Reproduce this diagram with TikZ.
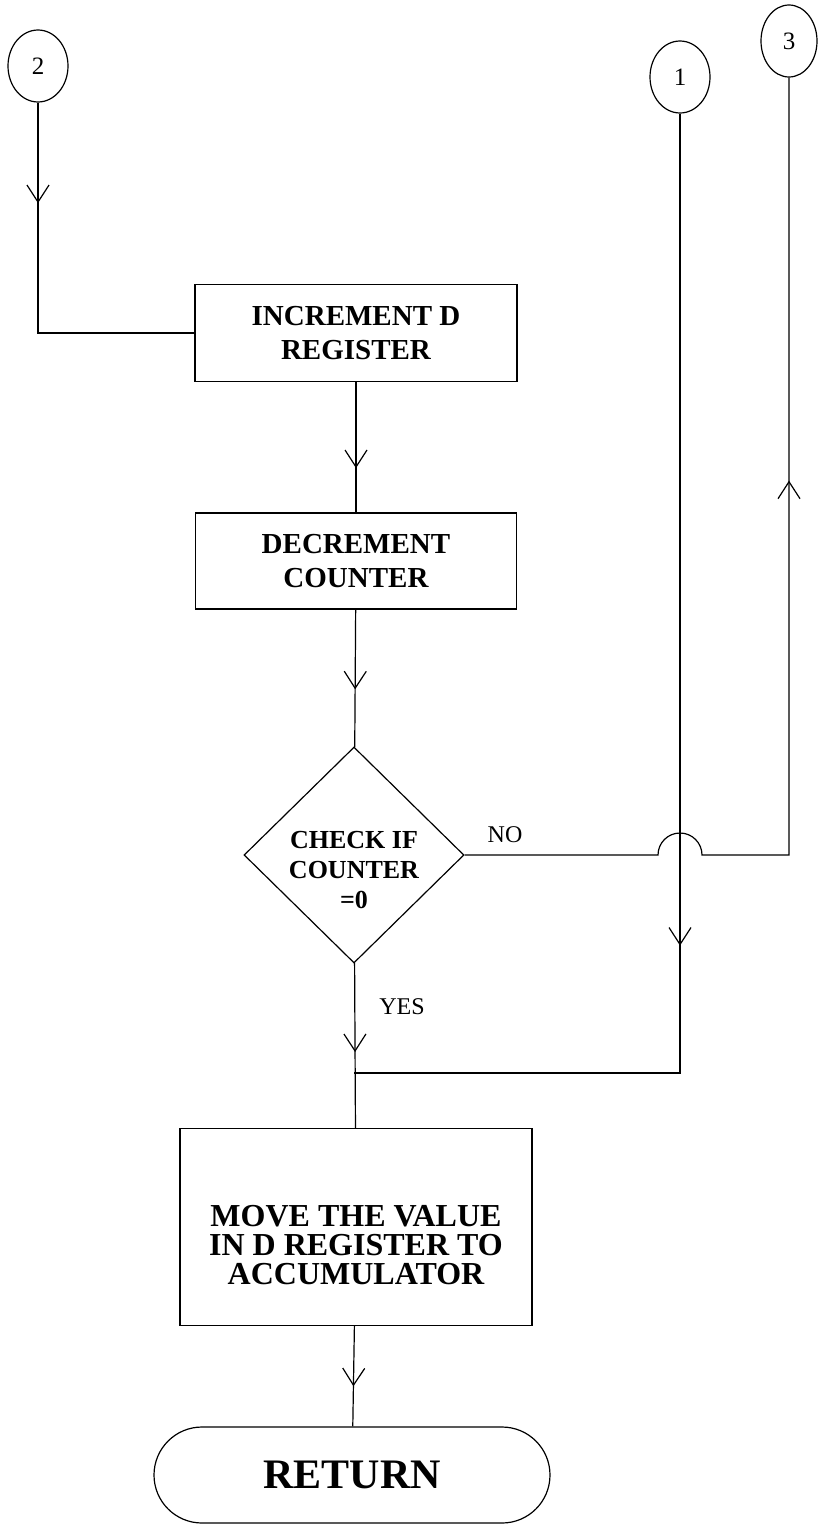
\documentclass[tikz,border=0pt]{standalone}
\usepackage{fontspec}
\setmainfont{Liberation Serif}
\usetikzlibrary{shapes.geometric,shapes.misc,arrows.meta,decorations.markings}

\begin{document}
\begin{tikzpicture}[x=1pt, y=-1pt, line width=1.2pt,
    stepbox/.style={draw, rectangle, inner sep=0pt, align=center, font=\fontsize{29}{34}\selectfont\bfseries},
    conn/.style={draw, ellipse, inner sep=0pt, minimum width=60pt, minimum height=72pt, font=\fontsize{25}{25}\selectfont},
    lbl/.style={inner sep=0pt, font=\fontsize{24}{24}\selectfont},
    vee/.style={postaction={decorate}, decoration={markings, mark=at position #1 with {\arrow{Straight Barb[length=17pt, width=22pt]}}}}]

\useasboundingbox (0,0) rectangle (819,1526);

\node[conn] (c2) at (38,66) {2};
\node[conn] (c1) at (680,77) {1};
\node[conn, minimum width=56pt] (c3) at (789,41) {3};

\node[stepbox, minimum width=322pt, minimum height=97pt] (inc) at (356,333) {INCREMENT D\\REGISTER};
\node[stepbox, minimum width=321pt, minimum height=96pt] (dec) at (356,561) {DECREMENT\\COUNTER};
\node[draw, diamond, inner sep=0pt, minimum width=220pt, minimum height=216pt] (dia) at (354,855) {};
\node[inner sep=0pt, align=center, font=\fontsize{26}{30}\selectfont\bfseries] (diatxt) at ([yshift=-15pt] dia.center)
    {CHECK IF\\COUNTER\\=0};
\node[stepbox, minimum width=352pt, minimum height=197pt] (move) at (356,1227) {};
\node[inner sep=0pt, align=center, font=\fontsize{32}{29}\selectfont\bfseries] (movetxt) at ([yshift=-18pt] move.center)
    {MOVE THE VALUE\\IN D REGISTER TO\\ACCUMULATOR};
\node[draw, rounded rectangle, inner sep=0pt, minimum width=396pt, minimum height=96pt,
    font=\fontsize{42}{42}\selectfont\bfseries] (ret) at (352,1475) {RETURN};

\node[lbl] (no) at (505,835) {NO};
\node[lbl] (yes) at (402,1007) {YES};

\coordinate (join) at (354,1073);

\draw[vee=0.26] (c2.south) |- (inc.west);
\draw[vee=0.66] (inc) -- (dec);
\draw[vee=0.58] (dec) -- (dia);
\draw[vee=0.54] (dia) -- (move);
\draw[vee=0.6] (move) -- (ret);
\draw[vee=832pt] (c1.south) |- (join);
\draw[vee=-403pt] (dia.east) -- ([xshift=-22pt] c1.south |- dia.east)
    arc[start angle=180, end angle=0, radius=22pt] -- (c3.south |- dia.east) -- (c3.south);
\end{tikzpicture}
\end{document}
